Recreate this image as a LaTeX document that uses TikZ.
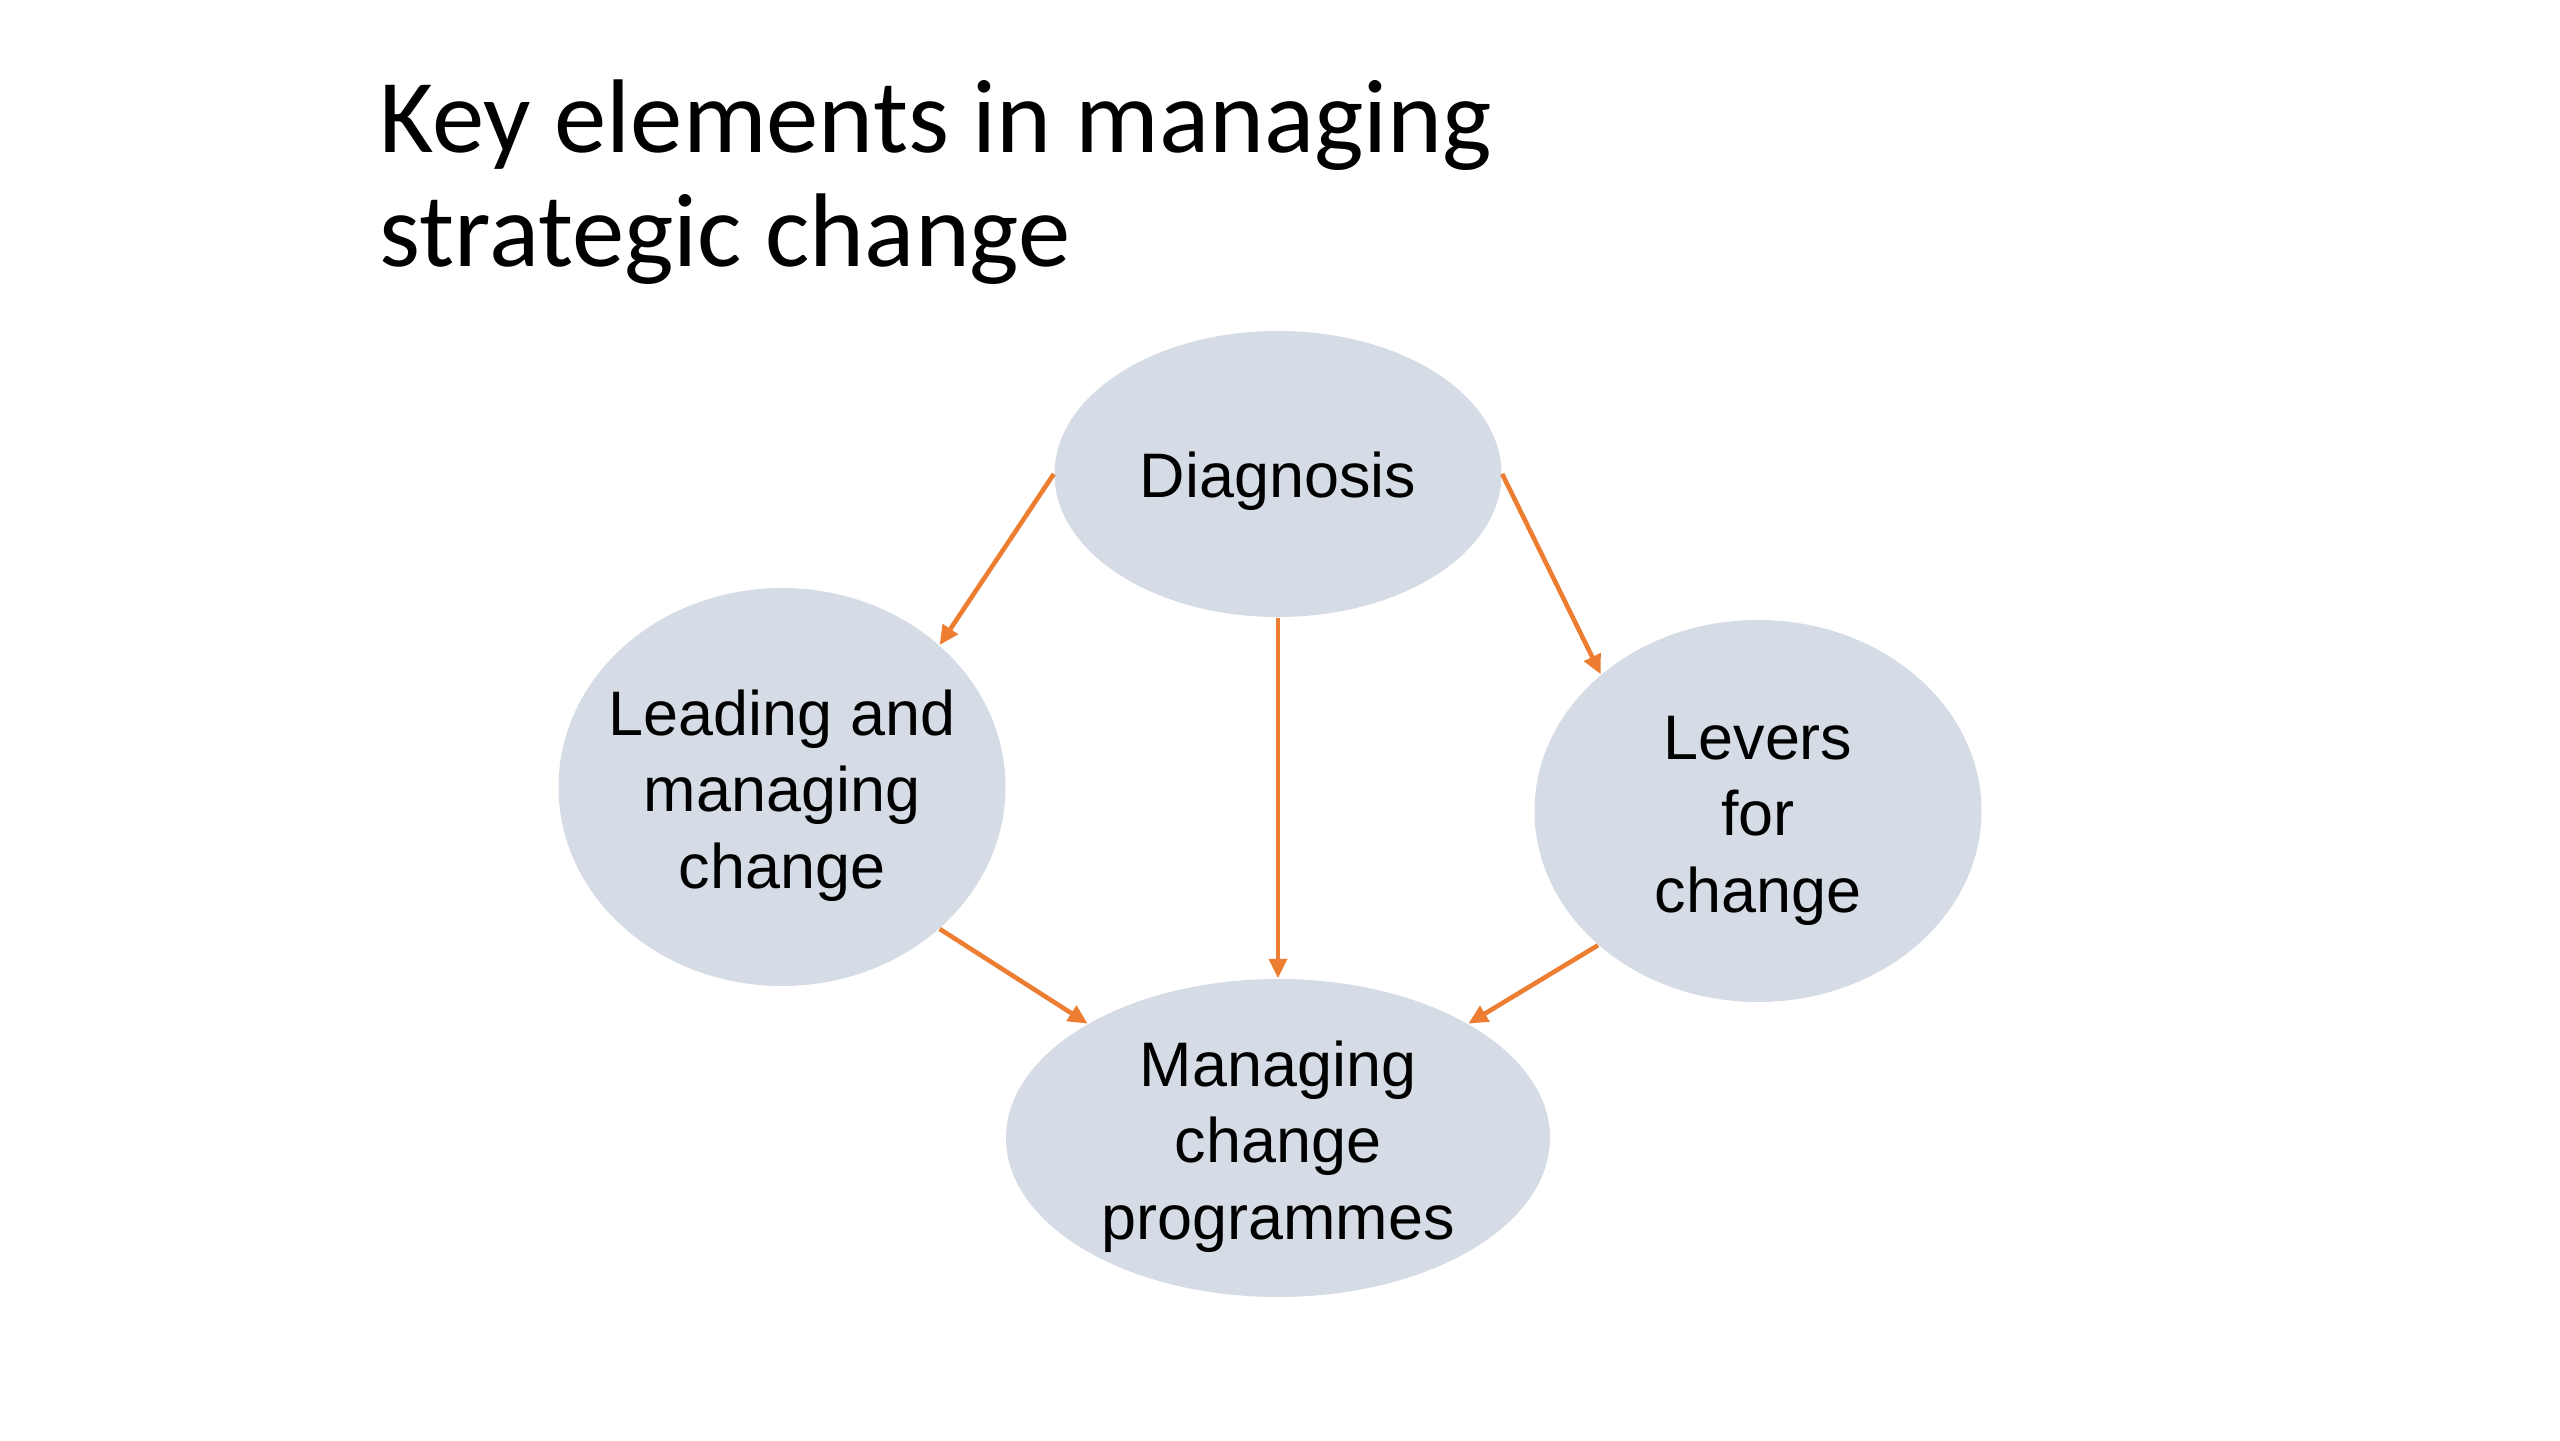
\documentclass[tikz,border=0pt]{standalone}
\usepackage{fontspec}
\setmainfont{Liberation Sans}
\newfontfamily\titlefont{Carlito}
\usetikzlibrary{shapes.geometric,arrows.meta}

\definecolor{bubble}{RGB}{214,220,229}
\definecolor{linkorange}{RGB}{237,125,49}

\begin{document}
\begin{tikzpicture}[
    element/.style={ellipse, fill=bubble, inner sep=-0.6cm, align=center,
        font=\fontsize{17.9}{21.9}\selectfont, text height=2.17cm},
    link/.style={-{Triangle[length=5.5pt,width=5pt]}, line width=1.3pt, draw=linkorange}
]
    % Page
    \fill[white] (0,0) rectangle (25.6,14.4);
    \useasboundingbox (0,0) rectangle (25.6,14.4);

    % Title
    \node[anchor=base west, inner sep=0pt, align=left,
          font=\titlefont\fontsize{29.8}{32.7}\selectfont] (title) at (3.79,11.73)
        {Key elements in managing\\strategic change};

    % Elements
    \node[element, minimum width=4.47cm, minimum height=2.86cm,
          text height=0.48cm, text depth=0pt] (diag) at (12.78,9.66) {Diagnosis};
    \node[element, minimum width=4.47cm, minimum height=3.98cm] (lead) at (7.82,6.53) {Leading and\\managing\\change};
    \node[element, minimum width=4.47cm, minimum height=3.82cm] (lev) at (17.58,6.29) {Levers\\for\\change};
    \node[element, minimum width=5.44cm, minimum height=3.18cm] (prog) at (12.78,3.02) {Managing\\change\\programmes};

    % Links
    \draw[link] (diag.west) -- (lead.42);
    \draw[link] (diag.east) -- (lev.139);
    \draw[link] (diag.south) -- (prog.north);
    \draw[link] (lead.-42) -- (prog.149);
    \draw[link] (lev.220) -- (prog.31);
\end{tikzpicture}
\end{document}
